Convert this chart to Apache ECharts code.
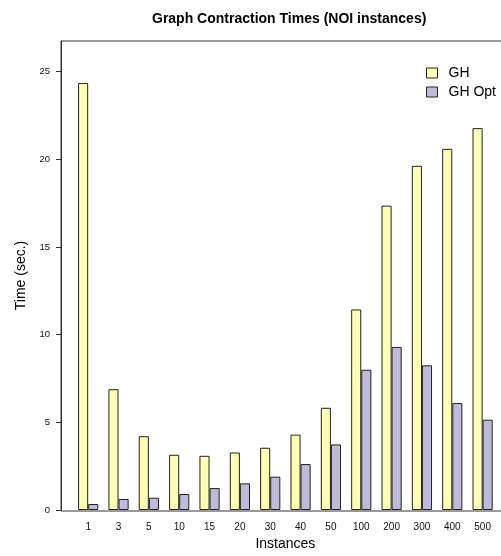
<!DOCTYPE html>
<html>
<head>
<meta charset="utf-8">
<script src="https://cdn.jsdelivr.net/npm/echarts@6/dist/echarts.min.js"></script>
<style>
  html, body { margin: 0; padding: 0; background: #fff; }
  #chart { width: 501px; height: 556px; }
</style>
</head>
<body>
<div id="chart"></div>
<script>
// values
const instances = ['1', '3', '5', '10', '15', '20', '30', '40', '50', '100', '200', '300', '400', '500'];
const ghTimes = [24.35, 6.89, 4.21, 3.15, 3.09, 3.28, 3.55, 4.3, 5.83, 11.44, 17.36, 19.63, 20.6, 21.78];
const ghOptTimes = [0.34, 0.63, 0.7, 0.91, 1.25, 1.52, 1.9, 2.62, 3.74, 8.0, 9.3, 8.25, 6.1, 5.15];
const yTicks = [0, 5, 10, 15, 20, 25];

const font = "'Liberation Sans', Arial, Helvetica, sans-serif";

let chart = echarts.init(document.getElementById('chart'), null, {renderer: 'canvas'});
chart.setOption({
  animation: false,
  textStyle: {fontFamily: font},
  title: {
    text: 'Graph Contraction Times (NOI instances)',
    left: 147,
    top: 7,
    textStyle: {fontSize: 14, fontWeight: 'bold', color: '#000', fontFamily: font}
  },
  legend: {
    orient: 'vertical',
    left: 421,
    top: 61,
    itemWidth: 11,
    itemHeight: 10,
    itemGap: 5,
    icon: 'rect',
    itemStyle: {borderColor: '#222', borderWidth: 1},
    textStyle: {fontSize: 14, color: '#000', padding: [0, 0, 0, 6]},
    data: ['GH', 'GH Opt']
  },
  grid: {left: 73, top: 41, width: 424.8, bottom: 45},
  graphic: [
    {
      type: 'rect',
      shape: {x: 61, y: 41, width: 470, height: 470},
      style: {fill: 'none', stroke: '#333', lineWidth: 1},
      silent: true,
      z: 10
    }
  ],
  xAxis: {
    type: 'category',
    data: instances,
    axisLine: {show: false},
    axisTick: {show: false},
    axisLabel: {fontSize: 10, color: '#111', margin: 12, interval: 0},
    name: 'Instances',
    nameLocation: 'middle',
    nameGap: 27,
    nameTextStyle: {fontSize: 14, color: '#000'}
  },
  yAxis: {
    type: 'value',
    min: 0,
    max: 26.75,
    offset: 12,
    axisLine: {show: true, lineStyle: {color: '#333'}},
    axisTick: {show: true, length: 5, lineStyle: {color: '#333'}, customValues: yTicks},
    axisLabel: {fontSize: 9.5, color: '#111', margin: 11, customValues: yTicks},
    splitLine: {show: false},
    name: 'Time (sec.)',
    nameLocation: 'middle',
    nameGap: 30,
    nameTextStyle: {fontSize: 14, color: '#000'}
  },
  series: [
    {
      name: 'GH',
      type: 'bar',
      data: ghTimes,
      barWidth: 10.1,
      barGap: '0%',
      itemStyle: {color: '#FFFFB3', borderColor: '#222', borderWidth: 1}
    },
    {
      name: 'GH Opt',
      type: 'bar',
      data: ghOptTimes,
      barWidth: 10.1,
      barGap: '0%',
      itemStyle: {color: '#BEBADA', borderColor: '#222', borderWidth: 1}
    }
  ]
});
</script>
</body>
</html>
